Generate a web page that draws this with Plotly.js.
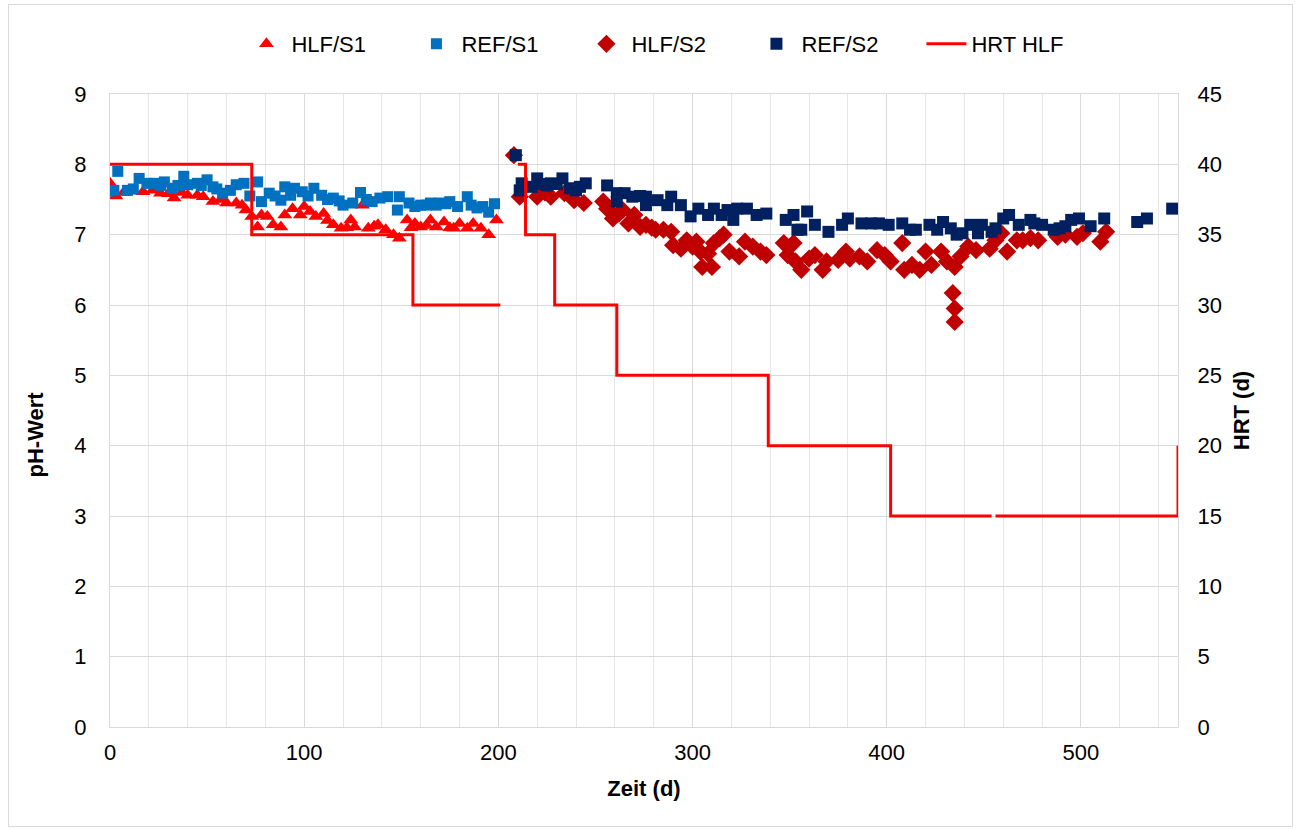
<!DOCTYPE html>
<html>
<head>
<meta charset="utf-8">
<script src="https://cdn.plot.ly/plotly-3.0.1.min.js"></script>
<style>
  html, body { margin: 0; padding: 0; background: #fff; }
  #chart { width: 1298px; height: 830px; }
  #frame { position: absolute; left: 8px; top: 4px; width: 1283px; height: 821px; border: 1px solid #d9d9d9; pointer-events: none; }
</style>
</head>
<body>
<div id="chart"></div>
<div id="frame"></div>
<script>
// HLF/S1 (red triangles)
const hlfS1Day = [0,3,7,12,17,22,26,30,33,37,40,45,48,53,57,60,65,68,70,73,76,78,81,84,88,90,94,98,100,103,106,110,112,115,119,122,124,126,130,133,136,138,142,146,149,153,155,157,160,163,165,168,172,175,177,180,184,187,191,195,199];
const hlfS1pH  = [7.73,7.55,7.6,7.62,7.61,7.63,7.59,7.58,7.52,7.6,7.56,7.56,7.54,7.47,7.5,7.45,7.45,7.42,7.35,7.26,7.11,7.28,7.26,7.14,7.11,7.28,7.37,7.28,7.4,7.33,7.26,7.3,7.2,7.14,7.09,7.1,7.21,7.11,7.42,7.09,7.12,7.14,7.07,7.0,6.95,7.21,7.1,7.16,7.11,7.13,7.21,7.11,7.18,7.1,7.09,7.16,7.09,7.16,7.09,7.0,7.21];

// REF/S1 (blue squares)
const refS1Day = [0,2,4,9,12,15,19,23,26,28,32,35,38,40,45,47,50,53,55,58,62,65,69,72,76,78,82,85,88,90,93,95,99,102,105,109,112,115,118,120,125,129,132,135,139,143,148,149,154,157,160,163,165,168,170,173,175,179,184,186,189,192,195,198];
const refS1pH  = [7.62,7.63,7.9,7.63,7.65,7.8,7.73,7.73,7.7,7.75,7.66,7.7,7.83,7.71,7.73,7.7,7.78,7.68,7.65,7.59,7.63,7.71,7.73,7.55,7.75,7.47,7.59,7.55,7.49,7.68,7.56,7.66,7.61,7.55,7.66,7.56,7.5,7.52,7.48,7.42,7.45,7.6,7.5,7.47,7.52,7.54,7.35,7.54,7.45,7.4,7.42,7.42,7.45,7.42,7.45,7.44,7.47,7.4,7.54,7.42,7.38,7.4,7.32,7.44];

// HLF/S2 (dark red diamonds)
const hlfS2Day = [208,211,220,224,227,234,239,244,254,256,259,262,264,267,270,273,276,279,281,285,289,290,294,297,300,302,304,305,308,310,311,314,316,319,324,327,331,335,338,347,349,352,353,356,360,363,367,369,375,379,381,386,390,395,399,402,408,409,413,417,420,423,428,431,434,435,435,435,438,442,446,453,456,459,462,467,470,474,478,488,492,498,501,510,513];
const hlfS2pH  = [8.13,7.54,7.54,7.6,7.54,7.59,7.49,7.45,7.47,7.37,7.23,7.3,7.35,7.16,7.28,7.11,7.14,7.1,7.07,7.07,7.04,6.85,6.8,6.92,6.83,6.9,6.76,6.54,6.73,6.54,6.88,6.95,7.0,6.76,6.69,6.9,6.83,6.76,6.71,6.88,6.71,6.88,6.62,6.5,6.66,6.71,6.5,6.62,6.64,6.76,6.66,6.69,6.62,6.78,6.71,6.62,6.88,6.5,6.57,6.5,6.76,6.57,6.76,6.62,6.17,5.95,5.76,6.54,6.69,6.83,6.78,6.8,6.92,7.02,6.76,6.92,6.92,6.95,6.92,6.97,7.0,6.97,7.02,6.9,7.04];

// REF/S2 (navy squares)
const refS2Day = [209,211,212,217,220,222,225,227,230,233,237,240,242,245,256,261,261,265,269,273,276,276,282,287,289,294,299,303,308,311,315,318,321,323,328,333,338,348,352,354,356,359,363,370,377,380,387,392,396,401,408,412,415,422,426,429,433,436,439,443,447,449,454,456,460,463,468,474,476,480,486,489,492,495,499,505,512,529,534,547];
const refS2pH  = [8.13,7.63,7.73,7.68,7.8,7.72,7.7,7.73,7.72,7.8,7.66,7.63,7.68,7.73,7.7,7.47,7.59,7.59,7.54,7.55,7.54,7.42,7.49,7.42,7.54,7.42,7.26,7.37,7.28,7.37,7.28,7.35,7.21,7.37,7.37,7.28,7.3,7.21,7.28,7.07,7.07,7.33,7.14,7.04,7.14,7.23,7.16,7.16,7.16,7.14,7.16,7.07,7.07,7.14,7.07,7.18,7.09,7.0,7.02,7.14,7.02,7.14,7.04,7.09,7.23,7.28,7.14,7.21,7.16,7.14,7.07,7.09,7.12,7.21,7.23,7.12,7.23,7.18,7.23,7.37];

// HRT HLF (step line, secondary axis)
const hrtDay = [0,73,73,156,156,201,null,210,214,214,229,229,261,261,339,339,402,402,454,null,456,550,550];
const hrtVal = [40,40,35,35,30,30,null,40,40,35,35,30,30,25,25,20,20,15,15,null,15,15,20];

const FONT = 'Arial, "Liberation Sans", sans-serif';
const FS = 22;
const NB = '\u00A0';

const traces = [
  {name:'HLF/S1', x:hlfS1Day, y:hlfS1pH, type:'scatter', mode:'markers',
   marker:{symbol:'triangle-up', size:13, color:'#FF0000'}},
  {name:'REF/S1', x:refS1Day, y:refS1pH, type:'scatter', mode:'markers',
   marker:{symbol:'square', size:11, color:'#0070C0'}},
  {name:'HLF/S2', x:hlfS2Day, y:hlfS2pH, type:'scatter', mode:'markers',
   marker:{symbol:'diamond', size:14, color:'#C00000'}},
  {name:'REF/S2', x:refS2Day, y:refS2pH, type:'scatter', mode:'markers',
   marker:{symbol:'square', size:12, color:'#002060'}},
  {name:'HRT HLF', x:hrtDay, y:hrtVal, type:'scatter', mode:'lines', yaxis:'y2',
   line:{color:'#FF0000', width:3}, connectgaps:false}
];

const layout = {
  width:1298, height:830,
  margin:{l:110, r:120, t:94, b:103},
  paper_bgcolor:'#fff', plot_bgcolor:'#fff',
  font:{family:FONT, size:FS, color:'#000'},
  showlegend:true,
  legend:{orientation:'h', x:0.521, xanchor:'center', y:1.079, yanchor:'middle',
          font:{family:FONT, size:FS, color:'#000'}, entrywidth:115, itemwidth:40},
  xaxis:{range:[0,550], tickvals:[0,100,200,300,400,500], ticktext:['0','100','200','300','400','500'],
         showgrid:true, gridcolor:'#d9d9d9', gridwidth:1,
         minor:{dtick:20, tick0:0, showgrid:true, gridcolor:'#e6e6e6', gridwidth:1},
         showline:true, linecolor:'#d9d9d9', linewidth:1, mirror:true, zeroline:false,
         ticks:'outside', ticklen:6, tickcolor:'rgba(0,0,0,0)',
         tickfont:{family:FONT, size:FS, color:'#000'},
         title:{text:'<b>Zeit (d)</b>', font:{family:FONT, size:FS, color:'#000'}, standoff:16}},
  yaxis:{range:[0,9], dtick:1, tick0:0,
         showgrid:true, gridcolor:'#d9d9d9', gridwidth:1,
         showline:true, linecolor:'#d9d9d9', linewidth:1, mirror:true, zeroline:false,
         ticks:'outside', ticklen:18, tickcolor:'rgba(0,0,0,0)',
         tickfont:{family:FONT, size:FS, color:'#000'},
         title:{text:'<b>pH-Wert' + NB.repeat(8) + '</b>', font:{family:FONT, size:FS, color:'#000'}, standoff:24}},
  yaxis2:{range:[0,45], dtick:5, tick0:0, overlaying:'y', side:'right',
          showgrid:false, zeroline:false, showline:false,
          ticks:'outside', ticklen:14, tickcolor:'rgba(0,0,0,0)',
          tickfont:{family:FONT, size:FS, color:'#000'},
          title:{text:'<b>HRT (d)</b>', font:{family:FONT, size:FS, color:'#000'}, standoff:12}}
};

Plotly.newPlot('chart', traces, layout, {displayModeBar:false, staticPlot:true});
</script>
</body>
</html>
